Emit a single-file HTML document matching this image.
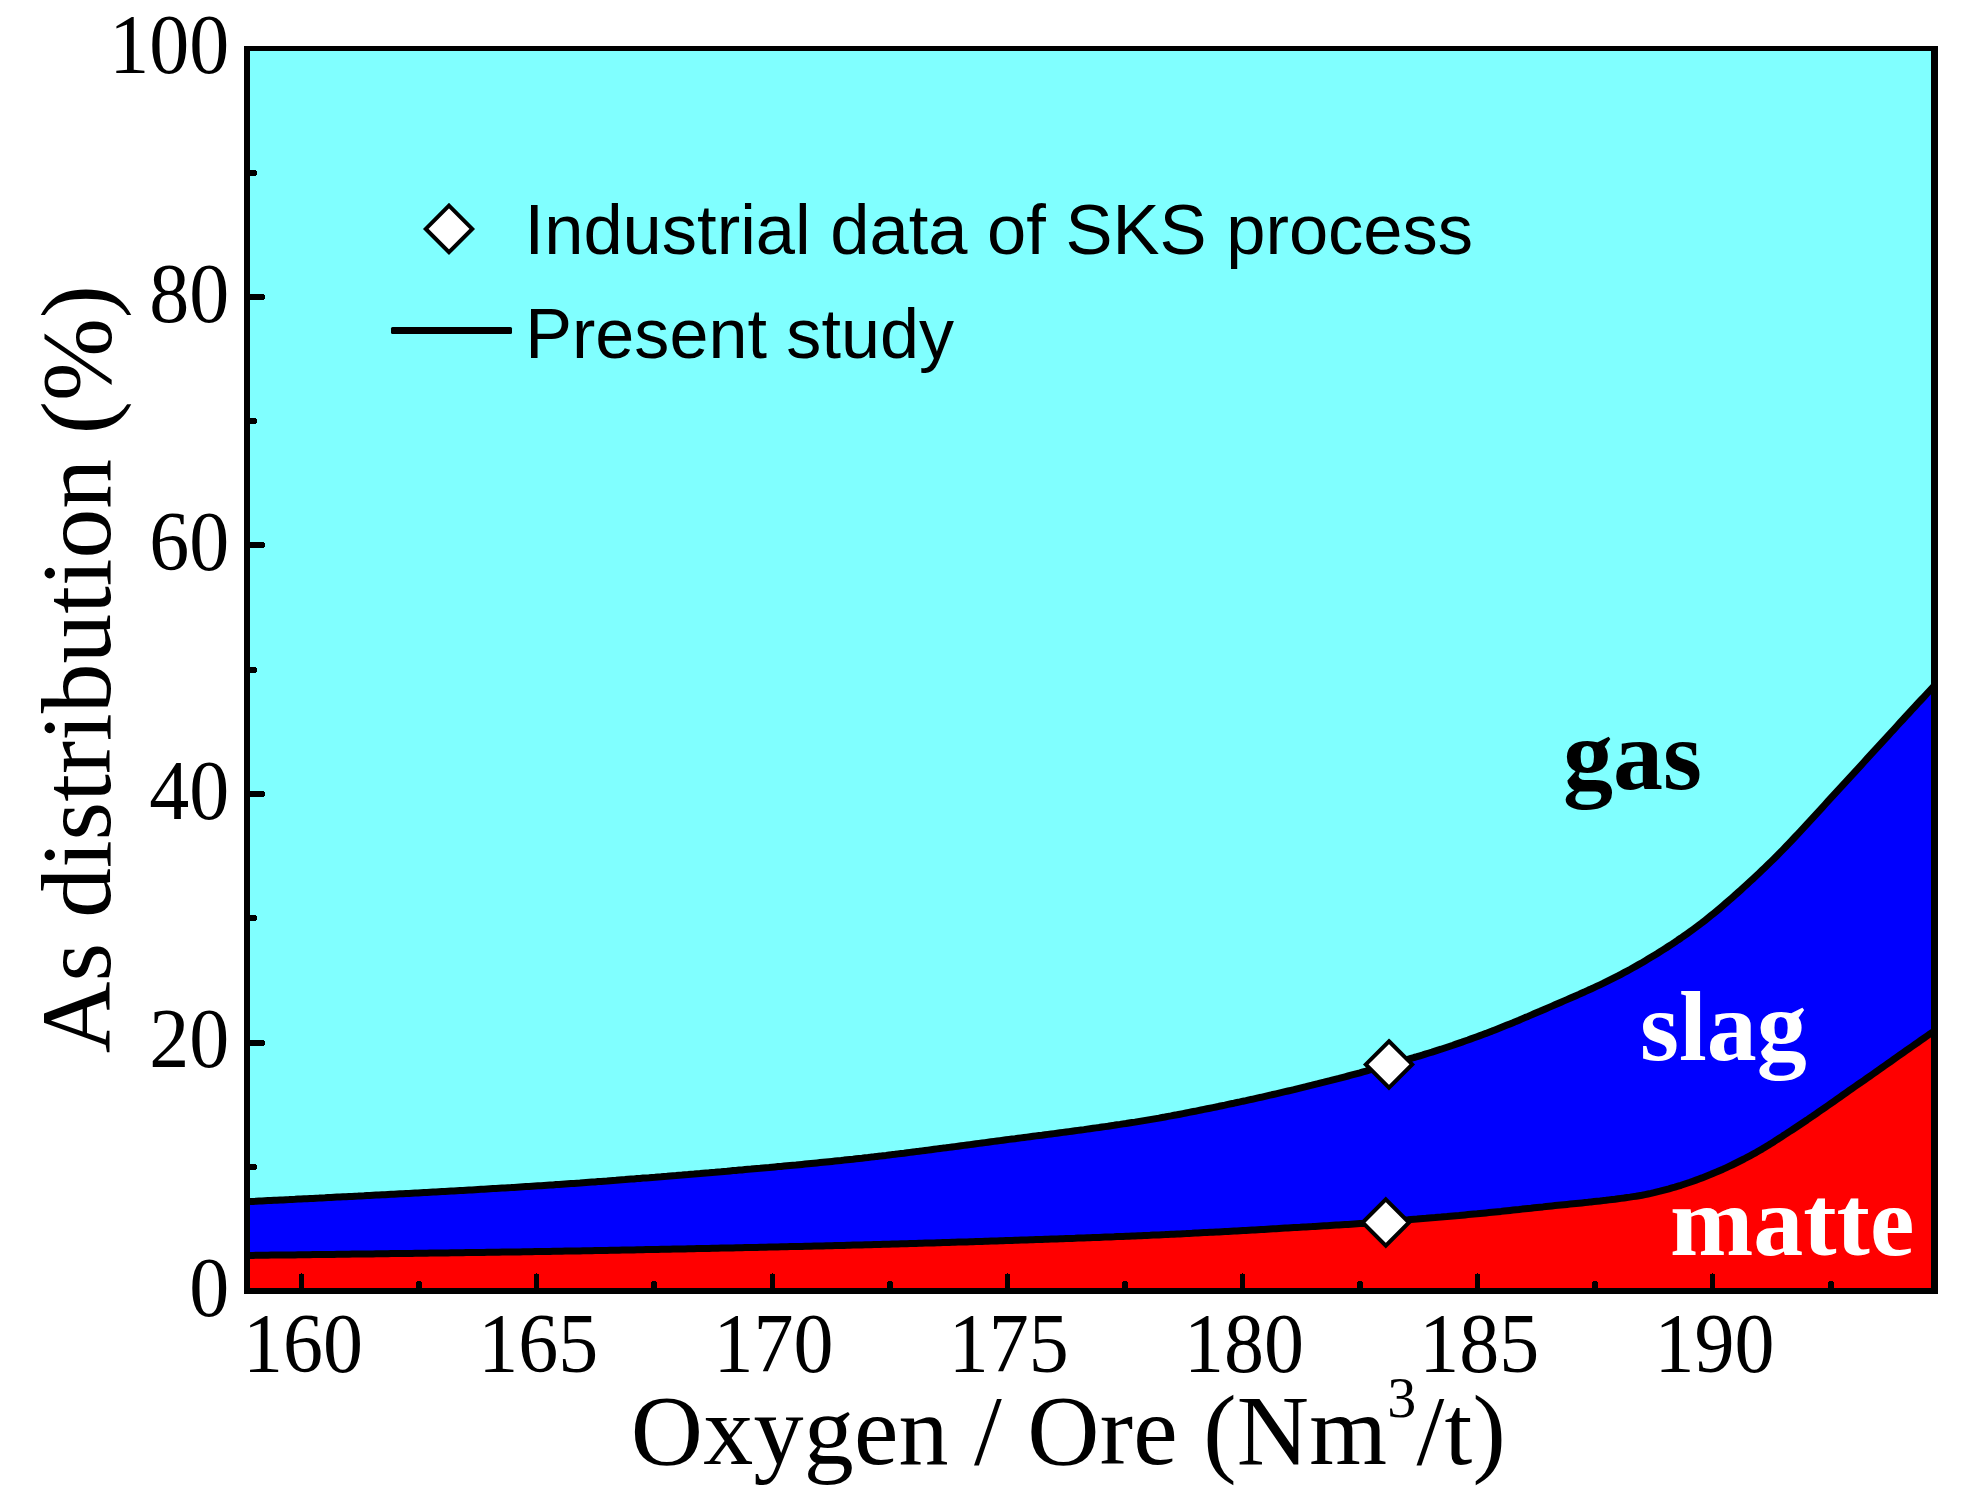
<!DOCTYPE html>
<html><head><meta charset="utf-8"><title>As distribution</title>
<style>
html,body{margin:0;padding:0;background:#fff;}
svg{display:block}
.ser{font-family:"Liberation Serif","Times New Roman",serif;}
.sans{font-family:"Liberation Sans",Arial,sans-serif;}
</style></head><body>
<svg width="1982" height="1506" viewBox="0 0 1982 1506">
<rect x="0" y="0" width="1982" height="1506" fill="#fff"/>
<rect x="247.0" y="48.5" width="1687.5" height="1242.5" fill="#80ffff"/>
<path d="M247.0,1201.7 L250.0,1201.6 L253.0,1201.4 L256.0,1201.3 L259.0,1201.1 L262.0,1201.0 L265.0,1200.8 L268.0,1200.6 L271.0,1200.5 L274.0,1200.3 L277.0,1200.2 L280.0,1200.0 L283.0,1199.9 L286.0,1199.7 L289.0,1199.6 L292.0,1199.4 L295.0,1199.3 L298.0,1199.1 L301.0,1199.0 L304.0,1198.8 L307.0,1198.7 L310.0,1198.5 L313.0,1198.4 L316.0,1198.2 L319.0,1198.1 L322.0,1197.9 L325.0,1197.8 L328.0,1197.6 L331.0,1197.5 L334.0,1197.3 L337.0,1197.1 L340.0,1197.0 L343.0,1196.8 L346.0,1196.7 L349.0,1196.5 L352.0,1196.4 L355.0,1196.2 L358.0,1196.1 L361.0,1195.9 L364.0,1195.8 L367.0,1195.6 L370.0,1195.5 L373.0,1195.3 L376.0,1195.1 L379.0,1195.0 L382.0,1194.8 L385.0,1194.7 L388.0,1194.5 L391.0,1194.3 L394.0,1194.2 L397.0,1194.0 L400.0,1193.8 L403.0,1193.7 L406.0,1193.5 L409.0,1193.4 L412.0,1193.2 L415.0,1193.0 L418.0,1192.9 L421.0,1192.7 L424.0,1192.5 L427.0,1192.4 L430.0,1192.2 L433.0,1192.0 L436.0,1191.9 L439.0,1191.7 L442.0,1191.5 L445.0,1191.4 L448.0,1191.2 L451.0,1191.0 L454.0,1190.9 L457.0,1190.7 L460.0,1190.5 L463.0,1190.4 L466.0,1190.2 L469.0,1190.0 L472.0,1189.9 L475.0,1189.7 L478.0,1189.5 L481.0,1189.3 L484.0,1189.2 L487.0,1189.0 L490.0,1188.8 L493.0,1188.6 L496.0,1188.5 L499.0,1188.3 L502.0,1188.1 L505.0,1187.9 L508.0,1187.7 L511.0,1187.6 L514.0,1187.4 L517.0,1187.2 L520.0,1187.0 L523.0,1186.8 L526.0,1186.6 L529.0,1186.4 L532.0,1186.2 L535.0,1186.0 L538.0,1185.8 L541.0,1185.7 L544.0,1185.5 L547.0,1185.3 L550.0,1185.1 L553.0,1184.9 L556.0,1184.6 L559.0,1184.4 L562.0,1184.2 L565.0,1184.0 L568.0,1183.8 L571.0,1183.6 L574.0,1183.4 L577.0,1183.2 L580.0,1183.0 L583.0,1182.7 L586.0,1182.5 L589.0,1182.3 L592.0,1182.1 L595.0,1181.9 L598.0,1181.6 L601.0,1181.4 L604.0,1181.2 L607.0,1181.0 L610.0,1180.7 L613.0,1180.5 L616.0,1180.3 L619.0,1180.0 L622.0,1179.8 L625.0,1179.6 L628.0,1179.3 L631.0,1179.1 L634.0,1178.9 L637.0,1178.6 L640.0,1178.4 L643.0,1178.1 L646.0,1177.9 L649.0,1177.7 L652.0,1177.4 L655.0,1177.2 L658.0,1176.9 L661.0,1176.7 L664.0,1176.4 L667.0,1176.2 L670.0,1175.9 L673.0,1175.7 L676.0,1175.5 L679.0,1175.2 L682.0,1175.0 L685.0,1174.7 L688.0,1174.5 L691.0,1174.2 L694.0,1174.0 L697.0,1173.7 L700.0,1173.5 L703.0,1173.2 L706.0,1172.9 L709.0,1172.7 L712.0,1172.4 L715.0,1172.2 L718.0,1171.9 L721.0,1171.7 L724.0,1171.4 L727.0,1171.2 L730.0,1170.9 L733.0,1170.6 L736.0,1170.4 L739.0,1170.1 L742.0,1169.9 L745.0,1169.6 L748.0,1169.3 L751.0,1169.1 L754.0,1168.8 L757.0,1168.5 L760.0,1168.3 L763.0,1168.0 L766.0,1167.7 L769.0,1167.5 L772.0,1167.2 L775.0,1166.9 L778.0,1166.6 L781.0,1166.4 L784.0,1166.1 L787.0,1165.8 L790.0,1165.5 L793.0,1165.2 L796.0,1165.0 L799.0,1164.7 L802.0,1164.4 L805.0,1164.1 L808.0,1163.8 L811.0,1163.5 L814.0,1163.2 L817.0,1162.9 L820.0,1162.6 L823.0,1162.3 L826.0,1162.0 L829.0,1161.7 L832.0,1161.4 L835.0,1161.1 L838.0,1160.8 L841.0,1160.5 L844.0,1160.1 L847.0,1159.8 L850.0,1159.5 L853.0,1159.2 L856.0,1158.8 L859.0,1158.5 L862.0,1158.2 L865.0,1157.8 L868.0,1157.5 L871.0,1157.1 L874.0,1156.8 L877.0,1156.4 L880.0,1156.1 L883.0,1155.7 L886.0,1155.4 L889.0,1155.0 L892.0,1154.6 L895.0,1154.3 L898.0,1153.9 L901.0,1153.5 L904.0,1153.2 L907.0,1152.8 L910.0,1152.4 L913.0,1152.0 L916.0,1151.6 L919.0,1151.3 L922.0,1150.9 L925.0,1150.5 L928.0,1150.1 L931.0,1149.7 L934.0,1149.3 L937.0,1148.9 L940.0,1148.5 L943.0,1148.1 L946.0,1147.8 L949.0,1147.4 L952.0,1147.0 L955.0,1146.6 L958.0,1146.2 L961.0,1145.8 L964.0,1145.4 L967.0,1145.0 L970.0,1144.6 L973.0,1144.2 L976.0,1143.8 L979.0,1143.4 L982.0,1143.0 L985.0,1142.6 L988.0,1142.2 L991.0,1141.8 L994.0,1141.4 L997.0,1141.0 L1000.0,1140.6 L1003.0,1140.2 L1006.0,1139.8 L1009.0,1139.4 L1012.0,1139.0 L1015.0,1138.7 L1018.0,1138.3 L1021.0,1137.9 L1024.0,1137.5 L1027.0,1137.1 L1030.0,1136.7 L1033.0,1136.3 L1036.0,1135.9 L1039.0,1135.5 L1042.0,1135.2 L1045.0,1134.8 L1048.0,1134.4 L1051.0,1134.0 L1054.0,1133.6 L1057.0,1133.2 L1060.0,1132.8 L1063.0,1132.4 L1066.0,1132.0 L1069.0,1131.6 L1072.0,1131.2 L1075.0,1130.8 L1078.0,1130.4 L1081.0,1130.0 L1084.0,1129.6 L1087.0,1129.1 L1090.0,1128.7 L1093.0,1128.3 L1096.0,1127.9 L1099.0,1127.5 L1102.0,1127.0 L1105.0,1126.6 L1108.0,1126.2 L1111.0,1125.7 L1114.0,1125.3 L1117.0,1124.8 L1120.0,1124.4 L1123.0,1123.9 L1126.0,1123.5 L1129.0,1123.0 L1132.0,1122.5 L1135.0,1122.1 L1138.0,1121.6 L1141.0,1121.1 L1144.0,1120.6 L1147.0,1120.1 L1150.0,1119.6 L1153.0,1119.1 L1156.0,1118.6 L1159.0,1118.1 L1162.0,1117.5 L1165.0,1117.0 L1168.0,1116.4 L1171.0,1115.9 L1174.0,1115.3 L1177.0,1114.8 L1180.0,1114.2 L1183.0,1113.6 L1186.0,1113.0 L1189.0,1112.4 L1192.0,1111.8 L1195.0,1111.3 L1198.0,1110.6 L1201.0,1110.0 L1204.0,1109.4 L1207.0,1108.8 L1210.0,1108.2 L1213.0,1107.6 L1216.0,1107.0 L1219.0,1106.3 L1222.0,1105.7 L1225.0,1105.1 L1228.0,1104.4 L1231.0,1103.8 L1234.0,1103.2 L1237.0,1102.5 L1240.0,1101.9 L1243.0,1101.2 L1246.0,1100.6 L1249.0,1099.9 L1252.0,1099.3 L1255.0,1098.6 L1258.0,1097.9 L1261.0,1097.3 L1264.0,1096.6 L1267.0,1095.9 L1270.0,1095.2 L1273.0,1094.5 L1276.0,1093.8 L1279.0,1093.1 L1282.0,1092.4 L1285.0,1091.7 L1288.0,1091.0 L1291.0,1090.3 L1294.0,1089.6 L1297.0,1088.8 L1300.0,1088.1 L1303.0,1087.4 L1306.0,1086.7 L1309.0,1085.9 L1312.0,1085.2 L1315.0,1084.4 L1318.0,1083.7 L1321.0,1082.9 L1324.0,1082.2 L1327.0,1081.4 L1330.0,1080.7 L1333.0,1079.9 L1336.0,1079.1 L1339.0,1078.4 L1342.0,1077.6 L1345.0,1076.8 L1348.0,1076.0 L1351.0,1075.2 L1354.0,1074.4 L1357.0,1073.6 L1360.0,1072.8 L1363.0,1071.9 L1366.0,1071.1 L1369.0,1070.2 L1372.0,1069.4 L1375.0,1068.6 L1378.0,1067.7 L1381.0,1066.9 L1384.0,1066.0 L1387.0,1065.2 L1390.0,1064.3 L1393.0,1063.5 L1396.0,1062.6 L1399.0,1061.8 L1402.0,1061.0 L1405.0,1060.1 L1408.0,1059.3 L1411.0,1058.4 L1414.0,1057.5 L1417.0,1056.7 L1420.0,1055.8 L1423.0,1054.9 L1426.0,1053.9 L1429.0,1053.0 L1432.0,1052.1 L1435.0,1051.1 L1438.0,1050.1 L1441.0,1049.2 L1444.0,1048.2 L1447.0,1047.2 L1450.0,1046.2 L1453.0,1045.2 L1456.0,1044.1 L1459.0,1043.1 L1462.0,1042.1 L1465.0,1041.0 L1468.0,1040.0 L1471.0,1038.9 L1474.0,1037.8 L1477.0,1036.7 L1480.0,1035.6 L1483.0,1034.5 L1486.0,1033.4 L1489.0,1032.2 L1492.0,1031.1 L1495.0,1029.9 L1498.0,1028.7 L1501.0,1027.5 L1504.0,1026.3 L1507.0,1025.1 L1510.0,1023.9 L1513.0,1022.7 L1516.0,1021.4 L1519.0,1020.2 L1522.0,1018.9 L1525.0,1017.6 L1528.0,1016.4 L1531.0,1015.1 L1534.0,1013.8 L1537.0,1012.5 L1540.0,1011.3 L1543.0,1010.0 L1546.0,1008.7 L1549.0,1007.4 L1552.0,1006.1 L1555.0,1004.8 L1558.0,1003.5 L1561.0,1002.2 L1564.0,1000.9 L1567.0,999.6 L1570.0,998.3 L1573.0,997.0 L1576.0,995.7 L1579.0,994.4 L1582.0,993.0 L1585.0,991.7 L1588.0,990.3 L1591.0,989.0 L1594.0,987.6 L1597.0,986.2 L1600.0,984.8 L1603.0,983.4 L1606.0,981.9 L1609.0,980.4 L1612.0,978.9 L1615.0,977.4 L1618.0,975.9 L1621.0,974.3 L1624.0,972.7 L1627.0,971.1 L1630.0,969.5 L1633.0,967.8 L1636.0,966.1 L1639.0,964.4 L1642.0,962.7 L1645.0,960.9 L1648.0,959.1 L1651.0,957.3 L1654.0,955.5 L1657.0,953.7 L1660.0,951.8 L1663.0,949.9 L1666.0,948.0 L1669.0,946.0 L1672.0,944.1 L1675.0,942.1 L1678.0,940.0 L1681.0,938.0 L1684.0,935.9 L1687.0,933.8 L1690.0,931.7 L1693.0,929.5 L1696.0,927.3 L1699.0,925.0 L1702.0,922.8 L1705.0,920.4 L1708.0,918.0 L1711.0,915.6 L1714.0,913.2 L1717.0,910.7 L1720.0,908.2 L1723.0,905.6 L1726.0,903.0 L1729.0,900.4 L1732.0,897.8 L1735.0,895.1 L1738.0,892.5 L1741.0,889.8 L1744.0,887.0 L1747.0,884.3 L1750.0,881.5 L1753.0,878.8 L1756.0,876.0 L1759.0,873.2 L1762.0,870.3 L1765.0,867.5 L1768.0,864.6 L1771.0,861.6 L1774.0,858.7 L1777.0,855.7 L1780.0,852.6 L1783.0,849.6 L1786.0,846.5 L1789.0,843.3 L1792.0,840.2 L1795.0,837.0 L1798.0,833.8 L1801.0,830.6 L1804.0,827.4 L1807.0,824.1 L1810.0,820.9 L1813.0,817.6 L1816.0,814.3 L1819.0,811.1 L1822.0,807.8 L1825.0,804.5 L1828.0,801.2 L1831.0,797.9 L1834.0,794.6 L1837.0,791.3 L1840.0,788.1 L1843.0,784.8 L1846.0,781.6 L1849.0,778.3 L1852.0,775.1 L1855.0,771.8 L1858.0,768.6 L1861.0,765.3 L1864.0,762.0 L1867.0,758.7 L1870.0,755.4 L1873.0,752.1 L1876.0,748.9 L1879.0,745.6 L1882.0,742.3 L1885.0,739.1 L1888.0,735.8 L1891.0,732.5 L1894.0,729.3 L1897.0,726.0 L1900.0,722.7 L1903.0,719.5 L1906.0,716.2 L1909.0,713.0 L1912.0,709.7 L1915.0,706.5 L1918.0,703.2 L1921.0,700.0 L1924.0,696.8 L1927.0,693.5 L1930.0,690.3 L1933.0,687.1 L1934.5,685.5 L1934.5,1291.0 L247.0,1291.0 Z" fill="#0000ff"/>
<path d="M247.0,1255.4 L250.0,1255.4 L253.0,1255.4 L256.0,1255.3 L259.0,1255.3 L262.0,1255.3 L265.0,1255.2 L268.0,1255.2 L271.0,1255.1 L274.0,1255.1 L277.0,1255.1 L280.0,1255.0 L283.0,1255.0 L286.0,1255.0 L289.0,1254.9 L292.0,1254.9 L295.0,1254.9 L298.0,1254.8 L301.0,1254.8 L304.0,1254.7 L307.0,1254.7 L310.0,1254.7 L313.0,1254.6 L316.0,1254.6 L319.0,1254.6 L322.0,1254.5 L325.0,1254.5 L328.0,1254.4 L331.0,1254.4 L334.0,1254.4 L337.0,1254.3 L340.0,1254.3 L343.0,1254.3 L346.0,1254.2 L349.0,1254.2 L352.0,1254.1 L355.0,1254.1 L358.0,1254.1 L361.0,1254.0 L364.0,1254.0 L367.0,1253.9 L370.0,1253.9 L373.0,1253.9 L376.0,1253.8 L379.0,1253.8 L382.0,1253.8 L385.0,1253.7 L388.0,1253.7 L391.0,1253.6 L394.0,1253.6 L397.0,1253.6 L400.0,1253.5 L403.0,1253.5 L406.0,1253.4 L409.0,1253.4 L412.0,1253.4 L415.0,1253.3 L418.0,1253.3 L421.0,1253.2 L424.0,1253.2 L427.0,1253.2 L430.0,1253.1 L433.0,1253.1 L436.0,1253.0 L439.0,1253.0 L442.0,1253.0 L445.0,1252.9 L448.0,1252.9 L451.0,1252.8 L454.0,1252.8 L457.0,1252.8 L460.0,1252.7 L463.0,1252.7 L466.0,1252.6 L469.0,1252.6 L472.0,1252.5 L475.0,1252.5 L478.0,1252.5 L481.0,1252.4 L484.0,1252.4 L487.0,1252.3 L490.0,1252.3 L493.0,1252.3 L496.0,1252.2 L499.0,1252.2 L502.0,1252.1 L505.0,1252.1 L508.0,1252.0 L511.0,1252.0 L514.0,1251.9 L517.0,1251.9 L520.0,1251.9 L523.0,1251.8 L526.0,1251.8 L529.0,1251.7 L532.0,1251.7 L535.0,1251.6 L538.0,1251.6 L541.0,1251.5 L544.0,1251.5 L547.0,1251.4 L550.0,1251.4 L553.0,1251.3 L556.0,1251.3 L559.0,1251.2 L562.0,1251.2 L565.0,1251.1 L568.0,1251.1 L571.0,1251.0 L574.0,1251.0 L577.0,1250.9 L580.0,1250.9 L583.0,1250.8 L586.0,1250.8 L589.0,1250.7 L592.0,1250.7 L595.0,1250.6 L598.0,1250.5 L601.0,1250.5 L604.0,1250.4 L607.0,1250.4 L610.0,1250.3 L613.0,1250.3 L616.0,1250.2 L619.0,1250.2 L622.0,1250.1 L625.0,1250.0 L628.0,1250.0 L631.0,1249.9 L634.0,1249.9 L637.0,1249.8 L640.0,1249.8 L643.0,1249.7 L646.0,1249.6 L649.0,1249.6 L652.0,1249.5 L655.0,1249.5 L658.0,1249.4 L661.0,1249.3 L664.0,1249.3 L667.0,1249.2 L670.0,1249.2 L673.0,1249.1 L676.0,1249.0 L679.0,1249.0 L682.0,1248.9 L685.0,1248.9 L688.0,1248.8 L691.0,1248.7 L694.0,1248.7 L697.0,1248.6 L700.0,1248.6 L703.0,1248.5 L706.0,1248.4 L709.0,1248.4 L712.0,1248.3 L715.0,1248.3 L718.0,1248.2 L721.0,1248.1 L724.0,1248.1 L727.0,1248.0 L730.0,1247.9 L733.0,1247.9 L736.0,1247.8 L739.0,1247.8 L742.0,1247.7 L745.0,1247.6 L748.0,1247.6 L751.0,1247.5 L754.0,1247.4 L757.0,1247.4 L760.0,1247.3 L763.0,1247.2 L766.0,1247.2 L769.0,1247.1 L772.0,1247.0 L775.0,1247.0 L778.0,1246.9 L781.0,1246.8 L784.0,1246.8 L787.0,1246.7 L790.0,1246.6 L793.0,1246.6 L796.0,1246.5 L799.0,1246.4 L802.0,1246.4 L805.0,1246.3 L808.0,1246.2 L811.0,1246.2 L814.0,1246.1 L817.0,1246.0 L820.0,1245.9 L823.0,1245.9 L826.0,1245.8 L829.0,1245.7 L832.0,1245.7 L835.0,1245.6 L838.0,1245.5 L841.0,1245.4 L844.0,1245.4 L847.0,1245.3 L850.0,1245.2 L853.0,1245.1 L856.0,1245.1 L859.0,1245.0 L862.0,1244.9 L865.0,1244.8 L868.0,1244.7 L871.0,1244.7 L874.0,1244.6 L877.0,1244.5 L880.0,1244.4 L883.0,1244.3 L886.0,1244.3 L889.0,1244.2 L892.0,1244.1 L895.0,1244.0 L898.0,1243.9 L901.0,1243.8 L904.0,1243.8 L907.0,1243.7 L910.0,1243.6 L913.0,1243.5 L916.0,1243.4 L919.0,1243.3 L922.0,1243.2 L925.0,1243.1 L928.0,1243.1 L931.0,1243.0 L934.0,1242.9 L937.0,1242.8 L940.0,1242.7 L943.0,1242.6 L946.0,1242.5 L949.0,1242.4 L952.0,1242.3 L955.0,1242.2 L958.0,1242.1 L961.0,1242.1 L964.0,1242.0 L967.0,1241.9 L970.0,1241.8 L973.0,1241.7 L976.0,1241.6 L979.0,1241.5 L982.0,1241.4 L985.0,1241.3 L988.0,1241.2 L991.0,1241.1 L994.0,1241.0 L997.0,1240.9 L1000.0,1240.8 L1003.0,1240.7 L1006.0,1240.6 L1009.0,1240.5 L1012.0,1240.4 L1015.0,1240.3 L1018.0,1240.2 L1021.0,1240.1 L1024.0,1240.0 L1027.0,1239.9 L1030.0,1239.8 L1033.0,1239.7 L1036.0,1239.6 L1039.0,1239.5 L1042.0,1239.4 L1045.0,1239.3 L1048.0,1239.2 L1051.0,1239.1 L1054.0,1239.0 L1057.0,1238.9 L1060.0,1238.8 L1063.0,1238.7 L1066.0,1238.6 L1069.0,1238.5 L1072.0,1238.4 L1075.0,1238.3 L1078.0,1238.1 L1081.0,1238.0 L1084.0,1237.9 L1087.0,1237.8 L1090.0,1237.7 L1093.0,1237.6 L1096.0,1237.5 L1099.0,1237.4 L1102.0,1237.2 L1105.0,1237.1 L1108.0,1237.0 L1111.0,1236.9 L1114.0,1236.8 L1117.0,1236.6 L1120.0,1236.5 L1123.0,1236.4 L1126.0,1236.3 L1129.0,1236.2 L1132.0,1236.0 L1135.0,1235.9 L1138.0,1235.8 L1141.0,1235.7 L1144.0,1235.5 L1147.0,1235.4 L1150.0,1235.3 L1153.0,1235.1 L1156.0,1235.0 L1159.0,1234.9 L1162.0,1234.7 L1165.0,1234.6 L1168.0,1234.4 L1171.0,1234.3 L1174.0,1234.2 L1177.0,1234.0 L1180.0,1233.9 L1183.0,1233.7 L1186.0,1233.6 L1189.0,1233.4 L1192.0,1233.3 L1195.0,1233.1 L1198.0,1233.0 L1201.0,1232.8 L1204.0,1232.6 L1207.0,1232.5 L1210.0,1232.3 L1213.0,1232.2 L1216.0,1232.0 L1219.0,1231.9 L1222.0,1231.7 L1225.0,1231.5 L1228.0,1231.4 L1231.0,1231.2 L1234.0,1231.0 L1237.0,1230.9 L1240.0,1230.7 L1243.0,1230.5 L1246.0,1230.4 L1249.0,1230.2 L1252.0,1230.0 L1255.0,1229.9 L1258.0,1229.7 L1261.0,1229.5 L1264.0,1229.4 L1267.0,1229.2 L1270.0,1229.0 L1273.0,1228.8 L1276.0,1228.7 L1279.0,1228.5 L1282.0,1228.3 L1285.0,1228.1 L1288.0,1228.0 L1291.0,1227.8 L1294.0,1227.6 L1297.0,1227.4 L1300.0,1227.3 L1303.0,1227.1 L1306.0,1226.9 L1309.0,1226.7 L1312.0,1226.6 L1315.0,1226.4 L1318.0,1226.2 L1321.0,1226.0 L1324.0,1225.8 L1327.0,1225.7 L1330.0,1225.5 L1333.0,1225.3 L1336.0,1225.1 L1339.0,1225.0 L1342.0,1224.8 L1345.0,1224.6 L1348.0,1224.4 L1351.0,1224.2 L1354.0,1224.0 L1357.0,1223.8 L1360.0,1223.6 L1363.0,1223.4 L1366.0,1223.2 L1369.0,1223.0 L1372.0,1222.8 L1375.0,1222.5 L1378.0,1222.3 L1381.0,1222.0 L1384.0,1221.8 L1387.0,1221.5 L1390.0,1221.2 L1393.0,1221.0 L1396.0,1220.7 L1399.0,1220.5 L1402.0,1220.2 L1405.0,1219.9 L1408.0,1219.7 L1411.0,1219.4 L1414.0,1219.2 L1417.0,1219.0 L1420.0,1218.7 L1423.0,1218.5 L1426.0,1218.3 L1429.0,1218.0 L1432.0,1217.8 L1435.0,1217.6 L1438.0,1217.3 L1441.0,1217.1 L1444.0,1216.8 L1447.0,1216.6 L1450.0,1216.3 L1453.0,1216.0 L1456.0,1215.7 L1459.0,1215.5 L1462.0,1215.2 L1465.0,1214.9 L1468.0,1214.6 L1471.0,1214.3 L1474.0,1214.0 L1477.0,1213.8 L1480.0,1213.5 L1483.0,1213.2 L1486.0,1212.9 L1489.0,1212.6 L1492.0,1212.3 L1495.0,1212.0 L1498.0,1211.7 L1501.0,1211.4 L1504.0,1211.0 L1507.0,1210.7 L1510.0,1210.4 L1513.0,1210.1 L1516.0,1209.8 L1519.0,1209.5 L1522.0,1209.1 L1525.0,1208.8 L1528.0,1208.5 L1531.0,1208.2 L1534.0,1207.8 L1537.0,1207.5 L1540.0,1207.2 L1543.0,1206.9 L1546.0,1206.5 L1549.0,1206.2 L1552.0,1205.9 L1555.0,1205.6 L1558.0,1205.3 L1561.0,1205.0 L1564.0,1204.7 L1567.0,1204.4 L1570.0,1204.1 L1573.0,1203.8 L1576.0,1203.5 L1579.0,1203.2 L1582.0,1202.9 L1585.0,1202.6 L1588.0,1202.3 L1591.0,1201.9 L1594.0,1201.6 L1597.0,1201.3 L1600.0,1201.0 L1603.0,1200.6 L1606.0,1200.3 L1609.0,1199.9 L1612.0,1199.5 L1615.0,1199.2 L1618.0,1198.8 L1621.0,1198.4 L1624.0,1198.0 L1627.0,1197.5 L1630.0,1197.1 L1633.0,1196.6 L1636.0,1196.2 L1639.0,1195.7 L1642.0,1195.2 L1645.0,1194.6 L1648.0,1194.0 L1651.0,1193.4 L1654.0,1192.7 L1657.0,1191.9 L1660.0,1191.2 L1663.0,1190.4 L1666.0,1189.6 L1669.0,1188.8 L1672.0,1187.9 L1675.0,1187.1 L1678.0,1186.2 L1681.0,1185.3 L1684.0,1184.3 L1687.0,1183.3 L1690.0,1182.3 L1693.0,1181.2 L1696.0,1180.1 L1699.0,1179.0 L1702.0,1177.9 L1705.0,1176.7 L1708.0,1175.5 L1711.0,1174.3 L1714.0,1173.0 L1717.0,1171.8 L1720.0,1170.5 L1723.0,1169.2 L1726.0,1167.8 L1729.0,1166.4 L1732.0,1165.0 L1735.0,1163.5 L1738.0,1162.0 L1741.0,1160.5 L1744.0,1159.0 L1747.0,1157.4 L1750.0,1155.8 L1753.0,1154.2 L1756.0,1152.6 L1759.0,1150.8 L1762.0,1149.1 L1765.0,1147.3 L1768.0,1145.4 L1771.0,1143.6 L1774.0,1141.7 L1777.0,1139.7 L1780.0,1137.8 L1783.0,1135.8 L1786.0,1133.9 L1789.0,1131.9 L1792.0,1130.0 L1795.0,1128.0 L1798.0,1126.0 L1801.0,1124.0 L1804.0,1122.0 L1807.0,1120.0 L1810.0,1117.9 L1813.0,1115.9 L1816.0,1113.8 L1819.0,1111.7 L1822.0,1109.7 L1825.0,1107.6 L1828.0,1105.5 L1831.0,1103.4 L1834.0,1101.3 L1837.0,1099.2 L1840.0,1097.1 L1843.0,1094.9 L1846.0,1092.8 L1849.0,1090.7 L1852.0,1088.6 L1855.0,1086.5 L1858.0,1084.4 L1861.0,1082.3 L1864.0,1080.3 L1867.0,1078.2 L1870.0,1076.1 L1873.0,1074.0 L1876.0,1071.9 L1879.0,1069.7 L1882.0,1067.6 L1885.0,1065.5 L1888.0,1063.4 L1891.0,1061.3 L1894.0,1059.2 L1897.0,1057.0 L1900.0,1054.9 L1903.0,1052.8 L1906.0,1050.7 L1909.0,1048.6 L1912.0,1046.5 L1915.0,1044.4 L1918.0,1042.3 L1921.0,1040.2 L1924.0,1038.1 L1927.0,1036.0 L1930.0,1033.9 L1933.0,1031.9 L1934.5,1030.8 L1934.5,1291.0 L247.0,1291.0 Z" fill="#ff0000"/>
<path d="M247.0,1201.7 L250.0,1201.6 L253.0,1201.4 L256.0,1201.3 L259.0,1201.1 L262.0,1201.0 L265.0,1200.8 L268.0,1200.6 L271.0,1200.5 L274.0,1200.3 L277.0,1200.2 L280.0,1200.0 L283.0,1199.9 L286.0,1199.7 L289.0,1199.6 L292.0,1199.4 L295.0,1199.3 L298.0,1199.1 L301.0,1199.0 L304.0,1198.8 L307.0,1198.7 L310.0,1198.5 L313.0,1198.4 L316.0,1198.2 L319.0,1198.1 L322.0,1197.9 L325.0,1197.8 L328.0,1197.6 L331.0,1197.5 L334.0,1197.3 L337.0,1197.1 L340.0,1197.0 L343.0,1196.8 L346.0,1196.7 L349.0,1196.5 L352.0,1196.4 L355.0,1196.2 L358.0,1196.1 L361.0,1195.9 L364.0,1195.8 L367.0,1195.6 L370.0,1195.5 L373.0,1195.3 L376.0,1195.1 L379.0,1195.0 L382.0,1194.8 L385.0,1194.7 L388.0,1194.5 L391.0,1194.3 L394.0,1194.2 L397.0,1194.0 L400.0,1193.8 L403.0,1193.7 L406.0,1193.5 L409.0,1193.4 L412.0,1193.2 L415.0,1193.0 L418.0,1192.9 L421.0,1192.7 L424.0,1192.5 L427.0,1192.4 L430.0,1192.2 L433.0,1192.0 L436.0,1191.9 L439.0,1191.7 L442.0,1191.5 L445.0,1191.4 L448.0,1191.2 L451.0,1191.0 L454.0,1190.9 L457.0,1190.7 L460.0,1190.5 L463.0,1190.4 L466.0,1190.2 L469.0,1190.0 L472.0,1189.9 L475.0,1189.7 L478.0,1189.5 L481.0,1189.3 L484.0,1189.2 L487.0,1189.0 L490.0,1188.8 L493.0,1188.6 L496.0,1188.5 L499.0,1188.3 L502.0,1188.1 L505.0,1187.9 L508.0,1187.7 L511.0,1187.6 L514.0,1187.4 L517.0,1187.2 L520.0,1187.0 L523.0,1186.8 L526.0,1186.6 L529.0,1186.4 L532.0,1186.2 L535.0,1186.0 L538.0,1185.8 L541.0,1185.7 L544.0,1185.5 L547.0,1185.3 L550.0,1185.1 L553.0,1184.9 L556.0,1184.6 L559.0,1184.4 L562.0,1184.2 L565.0,1184.0 L568.0,1183.8 L571.0,1183.6 L574.0,1183.4 L577.0,1183.2 L580.0,1183.0 L583.0,1182.7 L586.0,1182.5 L589.0,1182.3 L592.0,1182.1 L595.0,1181.9 L598.0,1181.6 L601.0,1181.4 L604.0,1181.2 L607.0,1181.0 L610.0,1180.7 L613.0,1180.5 L616.0,1180.3 L619.0,1180.0 L622.0,1179.8 L625.0,1179.6 L628.0,1179.3 L631.0,1179.1 L634.0,1178.9 L637.0,1178.6 L640.0,1178.4 L643.0,1178.1 L646.0,1177.9 L649.0,1177.7 L652.0,1177.4 L655.0,1177.2 L658.0,1176.9 L661.0,1176.7 L664.0,1176.4 L667.0,1176.2 L670.0,1175.9 L673.0,1175.7 L676.0,1175.5 L679.0,1175.2 L682.0,1175.0 L685.0,1174.7 L688.0,1174.5 L691.0,1174.2 L694.0,1174.0 L697.0,1173.7 L700.0,1173.5 L703.0,1173.2 L706.0,1172.9 L709.0,1172.7 L712.0,1172.4 L715.0,1172.2 L718.0,1171.9 L721.0,1171.7 L724.0,1171.4 L727.0,1171.2 L730.0,1170.9 L733.0,1170.6 L736.0,1170.4 L739.0,1170.1 L742.0,1169.9 L745.0,1169.6 L748.0,1169.3 L751.0,1169.1 L754.0,1168.8 L757.0,1168.5 L760.0,1168.3 L763.0,1168.0 L766.0,1167.7 L769.0,1167.5 L772.0,1167.2 L775.0,1166.9 L778.0,1166.6 L781.0,1166.4 L784.0,1166.1 L787.0,1165.8 L790.0,1165.5 L793.0,1165.2 L796.0,1165.0 L799.0,1164.7 L802.0,1164.4 L805.0,1164.1 L808.0,1163.8 L811.0,1163.5 L814.0,1163.2 L817.0,1162.9 L820.0,1162.6 L823.0,1162.3 L826.0,1162.0 L829.0,1161.7 L832.0,1161.4 L835.0,1161.1 L838.0,1160.8 L841.0,1160.5 L844.0,1160.1 L847.0,1159.8 L850.0,1159.5 L853.0,1159.2 L856.0,1158.8 L859.0,1158.5 L862.0,1158.2 L865.0,1157.8 L868.0,1157.5 L871.0,1157.1 L874.0,1156.8 L877.0,1156.4 L880.0,1156.1 L883.0,1155.7 L886.0,1155.4 L889.0,1155.0 L892.0,1154.6 L895.0,1154.3 L898.0,1153.9 L901.0,1153.5 L904.0,1153.2 L907.0,1152.8 L910.0,1152.4 L913.0,1152.0 L916.0,1151.6 L919.0,1151.3 L922.0,1150.9 L925.0,1150.5 L928.0,1150.1 L931.0,1149.7 L934.0,1149.3 L937.0,1148.9 L940.0,1148.5 L943.0,1148.1 L946.0,1147.8 L949.0,1147.4 L952.0,1147.0 L955.0,1146.6 L958.0,1146.2 L961.0,1145.8 L964.0,1145.4 L967.0,1145.0 L970.0,1144.6 L973.0,1144.2 L976.0,1143.8 L979.0,1143.4 L982.0,1143.0 L985.0,1142.6 L988.0,1142.2 L991.0,1141.8 L994.0,1141.4 L997.0,1141.0 L1000.0,1140.6 L1003.0,1140.2 L1006.0,1139.8 L1009.0,1139.4 L1012.0,1139.0 L1015.0,1138.7 L1018.0,1138.3 L1021.0,1137.9 L1024.0,1137.5 L1027.0,1137.1 L1030.0,1136.7 L1033.0,1136.3 L1036.0,1135.9 L1039.0,1135.5 L1042.0,1135.2 L1045.0,1134.8 L1048.0,1134.4 L1051.0,1134.0 L1054.0,1133.6 L1057.0,1133.2 L1060.0,1132.8 L1063.0,1132.4 L1066.0,1132.0 L1069.0,1131.6 L1072.0,1131.2 L1075.0,1130.8 L1078.0,1130.4 L1081.0,1130.0 L1084.0,1129.6 L1087.0,1129.1 L1090.0,1128.7 L1093.0,1128.3 L1096.0,1127.9 L1099.0,1127.5 L1102.0,1127.0 L1105.0,1126.6 L1108.0,1126.2 L1111.0,1125.7 L1114.0,1125.3 L1117.0,1124.8 L1120.0,1124.4 L1123.0,1123.9 L1126.0,1123.5 L1129.0,1123.0 L1132.0,1122.5 L1135.0,1122.1 L1138.0,1121.6 L1141.0,1121.1 L1144.0,1120.6 L1147.0,1120.1 L1150.0,1119.6 L1153.0,1119.1 L1156.0,1118.6 L1159.0,1118.1 L1162.0,1117.5 L1165.0,1117.0 L1168.0,1116.4 L1171.0,1115.9 L1174.0,1115.3 L1177.0,1114.8 L1180.0,1114.2 L1183.0,1113.6 L1186.0,1113.0 L1189.0,1112.4 L1192.0,1111.8 L1195.0,1111.3 L1198.0,1110.6 L1201.0,1110.0 L1204.0,1109.4 L1207.0,1108.8 L1210.0,1108.2 L1213.0,1107.6 L1216.0,1107.0 L1219.0,1106.3 L1222.0,1105.7 L1225.0,1105.1 L1228.0,1104.4 L1231.0,1103.8 L1234.0,1103.2 L1237.0,1102.5 L1240.0,1101.9 L1243.0,1101.2 L1246.0,1100.6 L1249.0,1099.9 L1252.0,1099.3 L1255.0,1098.6 L1258.0,1097.9 L1261.0,1097.3 L1264.0,1096.6 L1267.0,1095.9 L1270.0,1095.2 L1273.0,1094.5 L1276.0,1093.8 L1279.0,1093.1 L1282.0,1092.4 L1285.0,1091.7 L1288.0,1091.0 L1291.0,1090.3 L1294.0,1089.6 L1297.0,1088.8 L1300.0,1088.1 L1303.0,1087.4 L1306.0,1086.7 L1309.0,1085.9 L1312.0,1085.2 L1315.0,1084.4 L1318.0,1083.7 L1321.0,1082.9 L1324.0,1082.2 L1327.0,1081.4 L1330.0,1080.7 L1333.0,1079.9 L1336.0,1079.1 L1339.0,1078.4 L1342.0,1077.6 L1345.0,1076.8 L1348.0,1076.0 L1351.0,1075.2 L1354.0,1074.4 L1357.0,1073.6 L1360.0,1072.8 L1363.0,1071.9 L1366.0,1071.1 L1369.0,1070.2 L1372.0,1069.4 L1375.0,1068.6 L1378.0,1067.7 L1381.0,1066.9 L1384.0,1066.0 L1387.0,1065.2 L1390.0,1064.3 L1393.0,1063.5 L1396.0,1062.6 L1399.0,1061.8 L1402.0,1061.0 L1405.0,1060.1 L1408.0,1059.3 L1411.0,1058.4 L1414.0,1057.5 L1417.0,1056.7 L1420.0,1055.8 L1423.0,1054.9 L1426.0,1053.9 L1429.0,1053.0 L1432.0,1052.1 L1435.0,1051.1 L1438.0,1050.1 L1441.0,1049.2 L1444.0,1048.2 L1447.0,1047.2 L1450.0,1046.2 L1453.0,1045.2 L1456.0,1044.1 L1459.0,1043.1 L1462.0,1042.1 L1465.0,1041.0 L1468.0,1040.0 L1471.0,1038.9 L1474.0,1037.8 L1477.0,1036.7 L1480.0,1035.6 L1483.0,1034.5 L1486.0,1033.4 L1489.0,1032.2 L1492.0,1031.1 L1495.0,1029.9 L1498.0,1028.7 L1501.0,1027.5 L1504.0,1026.3 L1507.0,1025.1 L1510.0,1023.9 L1513.0,1022.7 L1516.0,1021.4 L1519.0,1020.2 L1522.0,1018.9 L1525.0,1017.6 L1528.0,1016.4 L1531.0,1015.1 L1534.0,1013.8 L1537.0,1012.5 L1540.0,1011.3 L1543.0,1010.0 L1546.0,1008.7 L1549.0,1007.4 L1552.0,1006.1 L1555.0,1004.8 L1558.0,1003.5 L1561.0,1002.2 L1564.0,1000.9 L1567.0,999.6 L1570.0,998.3 L1573.0,997.0 L1576.0,995.7 L1579.0,994.4 L1582.0,993.0 L1585.0,991.7 L1588.0,990.3 L1591.0,989.0 L1594.0,987.6 L1597.0,986.2 L1600.0,984.8 L1603.0,983.4 L1606.0,981.9 L1609.0,980.4 L1612.0,978.9 L1615.0,977.4 L1618.0,975.9 L1621.0,974.3 L1624.0,972.7 L1627.0,971.1 L1630.0,969.5 L1633.0,967.8 L1636.0,966.1 L1639.0,964.4 L1642.0,962.7 L1645.0,960.9 L1648.0,959.1 L1651.0,957.3 L1654.0,955.5 L1657.0,953.7 L1660.0,951.8 L1663.0,949.9 L1666.0,948.0 L1669.0,946.0 L1672.0,944.1 L1675.0,942.1 L1678.0,940.0 L1681.0,938.0 L1684.0,935.9 L1687.0,933.8 L1690.0,931.7 L1693.0,929.5 L1696.0,927.3 L1699.0,925.0 L1702.0,922.8 L1705.0,920.4 L1708.0,918.0 L1711.0,915.6 L1714.0,913.2 L1717.0,910.7 L1720.0,908.2 L1723.0,905.6 L1726.0,903.0 L1729.0,900.4 L1732.0,897.8 L1735.0,895.1 L1738.0,892.5 L1741.0,889.8 L1744.0,887.0 L1747.0,884.3 L1750.0,881.5 L1753.0,878.8 L1756.0,876.0 L1759.0,873.2 L1762.0,870.3 L1765.0,867.5 L1768.0,864.6 L1771.0,861.6 L1774.0,858.7 L1777.0,855.7 L1780.0,852.6 L1783.0,849.6 L1786.0,846.5 L1789.0,843.3 L1792.0,840.2 L1795.0,837.0 L1798.0,833.8 L1801.0,830.6 L1804.0,827.4 L1807.0,824.1 L1810.0,820.9 L1813.0,817.6 L1816.0,814.3 L1819.0,811.1 L1822.0,807.8 L1825.0,804.5 L1828.0,801.2 L1831.0,797.9 L1834.0,794.6 L1837.0,791.3 L1840.0,788.1 L1843.0,784.8 L1846.0,781.6 L1849.0,778.3 L1852.0,775.1 L1855.0,771.8 L1858.0,768.6 L1861.0,765.3 L1864.0,762.0 L1867.0,758.7 L1870.0,755.4 L1873.0,752.1 L1876.0,748.9 L1879.0,745.6 L1882.0,742.3 L1885.0,739.1 L1888.0,735.8 L1891.0,732.5 L1894.0,729.3 L1897.0,726.0 L1900.0,722.7 L1903.0,719.5 L1906.0,716.2 L1909.0,713.0 L1912.0,709.7 L1915.0,706.5 L1918.0,703.2 L1921.0,700.0 L1924.0,696.8 L1927.0,693.5 L1930.0,690.3 L1933.0,687.1 L1934.5,685.5" fill="none" stroke="#000" stroke-width="7" stroke-linejoin="round"/>
<path d="M247.0,1255.4 L250.0,1255.4 L253.0,1255.4 L256.0,1255.3 L259.0,1255.3 L262.0,1255.3 L265.0,1255.2 L268.0,1255.2 L271.0,1255.1 L274.0,1255.1 L277.0,1255.1 L280.0,1255.0 L283.0,1255.0 L286.0,1255.0 L289.0,1254.9 L292.0,1254.9 L295.0,1254.9 L298.0,1254.8 L301.0,1254.8 L304.0,1254.7 L307.0,1254.7 L310.0,1254.7 L313.0,1254.6 L316.0,1254.6 L319.0,1254.6 L322.0,1254.5 L325.0,1254.5 L328.0,1254.4 L331.0,1254.4 L334.0,1254.4 L337.0,1254.3 L340.0,1254.3 L343.0,1254.3 L346.0,1254.2 L349.0,1254.2 L352.0,1254.1 L355.0,1254.1 L358.0,1254.1 L361.0,1254.0 L364.0,1254.0 L367.0,1253.9 L370.0,1253.9 L373.0,1253.9 L376.0,1253.8 L379.0,1253.8 L382.0,1253.8 L385.0,1253.7 L388.0,1253.7 L391.0,1253.6 L394.0,1253.6 L397.0,1253.6 L400.0,1253.5 L403.0,1253.5 L406.0,1253.4 L409.0,1253.4 L412.0,1253.4 L415.0,1253.3 L418.0,1253.3 L421.0,1253.2 L424.0,1253.2 L427.0,1253.2 L430.0,1253.1 L433.0,1253.1 L436.0,1253.0 L439.0,1253.0 L442.0,1253.0 L445.0,1252.9 L448.0,1252.9 L451.0,1252.8 L454.0,1252.8 L457.0,1252.8 L460.0,1252.7 L463.0,1252.7 L466.0,1252.6 L469.0,1252.6 L472.0,1252.5 L475.0,1252.5 L478.0,1252.5 L481.0,1252.4 L484.0,1252.4 L487.0,1252.3 L490.0,1252.3 L493.0,1252.3 L496.0,1252.2 L499.0,1252.2 L502.0,1252.1 L505.0,1252.1 L508.0,1252.0 L511.0,1252.0 L514.0,1251.9 L517.0,1251.9 L520.0,1251.9 L523.0,1251.8 L526.0,1251.8 L529.0,1251.7 L532.0,1251.7 L535.0,1251.6 L538.0,1251.6 L541.0,1251.5 L544.0,1251.5 L547.0,1251.4 L550.0,1251.4 L553.0,1251.3 L556.0,1251.3 L559.0,1251.2 L562.0,1251.2 L565.0,1251.1 L568.0,1251.1 L571.0,1251.0 L574.0,1251.0 L577.0,1250.9 L580.0,1250.9 L583.0,1250.8 L586.0,1250.8 L589.0,1250.7 L592.0,1250.7 L595.0,1250.6 L598.0,1250.5 L601.0,1250.5 L604.0,1250.4 L607.0,1250.4 L610.0,1250.3 L613.0,1250.3 L616.0,1250.2 L619.0,1250.2 L622.0,1250.1 L625.0,1250.0 L628.0,1250.0 L631.0,1249.9 L634.0,1249.9 L637.0,1249.8 L640.0,1249.8 L643.0,1249.7 L646.0,1249.6 L649.0,1249.6 L652.0,1249.5 L655.0,1249.5 L658.0,1249.4 L661.0,1249.3 L664.0,1249.3 L667.0,1249.2 L670.0,1249.2 L673.0,1249.1 L676.0,1249.0 L679.0,1249.0 L682.0,1248.9 L685.0,1248.9 L688.0,1248.8 L691.0,1248.7 L694.0,1248.7 L697.0,1248.6 L700.0,1248.6 L703.0,1248.5 L706.0,1248.4 L709.0,1248.4 L712.0,1248.3 L715.0,1248.3 L718.0,1248.2 L721.0,1248.1 L724.0,1248.1 L727.0,1248.0 L730.0,1247.9 L733.0,1247.9 L736.0,1247.8 L739.0,1247.8 L742.0,1247.7 L745.0,1247.6 L748.0,1247.6 L751.0,1247.5 L754.0,1247.4 L757.0,1247.4 L760.0,1247.3 L763.0,1247.2 L766.0,1247.2 L769.0,1247.1 L772.0,1247.0 L775.0,1247.0 L778.0,1246.9 L781.0,1246.8 L784.0,1246.8 L787.0,1246.7 L790.0,1246.6 L793.0,1246.6 L796.0,1246.5 L799.0,1246.4 L802.0,1246.4 L805.0,1246.3 L808.0,1246.2 L811.0,1246.2 L814.0,1246.1 L817.0,1246.0 L820.0,1245.9 L823.0,1245.9 L826.0,1245.8 L829.0,1245.7 L832.0,1245.7 L835.0,1245.6 L838.0,1245.5 L841.0,1245.4 L844.0,1245.4 L847.0,1245.3 L850.0,1245.2 L853.0,1245.1 L856.0,1245.1 L859.0,1245.0 L862.0,1244.9 L865.0,1244.8 L868.0,1244.7 L871.0,1244.7 L874.0,1244.6 L877.0,1244.5 L880.0,1244.4 L883.0,1244.3 L886.0,1244.3 L889.0,1244.2 L892.0,1244.1 L895.0,1244.0 L898.0,1243.9 L901.0,1243.8 L904.0,1243.8 L907.0,1243.7 L910.0,1243.6 L913.0,1243.5 L916.0,1243.4 L919.0,1243.3 L922.0,1243.2 L925.0,1243.1 L928.0,1243.1 L931.0,1243.0 L934.0,1242.9 L937.0,1242.8 L940.0,1242.7 L943.0,1242.6 L946.0,1242.5 L949.0,1242.4 L952.0,1242.3 L955.0,1242.2 L958.0,1242.1 L961.0,1242.1 L964.0,1242.0 L967.0,1241.9 L970.0,1241.8 L973.0,1241.7 L976.0,1241.6 L979.0,1241.5 L982.0,1241.4 L985.0,1241.3 L988.0,1241.2 L991.0,1241.1 L994.0,1241.0 L997.0,1240.9 L1000.0,1240.8 L1003.0,1240.7 L1006.0,1240.6 L1009.0,1240.5 L1012.0,1240.4 L1015.0,1240.3 L1018.0,1240.2 L1021.0,1240.1 L1024.0,1240.0 L1027.0,1239.9 L1030.0,1239.8 L1033.0,1239.7 L1036.0,1239.6 L1039.0,1239.5 L1042.0,1239.4 L1045.0,1239.3 L1048.0,1239.2 L1051.0,1239.1 L1054.0,1239.0 L1057.0,1238.9 L1060.0,1238.8 L1063.0,1238.7 L1066.0,1238.6 L1069.0,1238.5 L1072.0,1238.4 L1075.0,1238.3 L1078.0,1238.1 L1081.0,1238.0 L1084.0,1237.9 L1087.0,1237.8 L1090.0,1237.7 L1093.0,1237.6 L1096.0,1237.5 L1099.0,1237.4 L1102.0,1237.2 L1105.0,1237.1 L1108.0,1237.0 L1111.0,1236.9 L1114.0,1236.8 L1117.0,1236.6 L1120.0,1236.5 L1123.0,1236.4 L1126.0,1236.3 L1129.0,1236.2 L1132.0,1236.0 L1135.0,1235.9 L1138.0,1235.8 L1141.0,1235.7 L1144.0,1235.5 L1147.0,1235.4 L1150.0,1235.3 L1153.0,1235.1 L1156.0,1235.0 L1159.0,1234.9 L1162.0,1234.7 L1165.0,1234.6 L1168.0,1234.4 L1171.0,1234.3 L1174.0,1234.2 L1177.0,1234.0 L1180.0,1233.9 L1183.0,1233.7 L1186.0,1233.6 L1189.0,1233.4 L1192.0,1233.3 L1195.0,1233.1 L1198.0,1233.0 L1201.0,1232.8 L1204.0,1232.6 L1207.0,1232.5 L1210.0,1232.3 L1213.0,1232.2 L1216.0,1232.0 L1219.0,1231.9 L1222.0,1231.7 L1225.0,1231.5 L1228.0,1231.4 L1231.0,1231.2 L1234.0,1231.0 L1237.0,1230.9 L1240.0,1230.7 L1243.0,1230.5 L1246.0,1230.4 L1249.0,1230.2 L1252.0,1230.0 L1255.0,1229.9 L1258.0,1229.7 L1261.0,1229.5 L1264.0,1229.4 L1267.0,1229.2 L1270.0,1229.0 L1273.0,1228.8 L1276.0,1228.7 L1279.0,1228.5 L1282.0,1228.3 L1285.0,1228.1 L1288.0,1228.0 L1291.0,1227.8 L1294.0,1227.6 L1297.0,1227.4 L1300.0,1227.3 L1303.0,1227.1 L1306.0,1226.9 L1309.0,1226.7 L1312.0,1226.6 L1315.0,1226.4 L1318.0,1226.2 L1321.0,1226.0 L1324.0,1225.8 L1327.0,1225.7 L1330.0,1225.5 L1333.0,1225.3 L1336.0,1225.1 L1339.0,1225.0 L1342.0,1224.8 L1345.0,1224.6 L1348.0,1224.4 L1351.0,1224.2 L1354.0,1224.0 L1357.0,1223.8 L1360.0,1223.6 L1363.0,1223.4 L1366.0,1223.2 L1369.0,1223.0 L1372.0,1222.8 L1375.0,1222.5 L1378.0,1222.3 L1381.0,1222.0 L1384.0,1221.8 L1387.0,1221.5 L1390.0,1221.2 L1393.0,1221.0 L1396.0,1220.7 L1399.0,1220.5 L1402.0,1220.2 L1405.0,1219.9 L1408.0,1219.7 L1411.0,1219.4 L1414.0,1219.2 L1417.0,1219.0 L1420.0,1218.7 L1423.0,1218.5 L1426.0,1218.3 L1429.0,1218.0 L1432.0,1217.8 L1435.0,1217.6 L1438.0,1217.3 L1441.0,1217.1 L1444.0,1216.8 L1447.0,1216.6 L1450.0,1216.3 L1453.0,1216.0 L1456.0,1215.7 L1459.0,1215.5 L1462.0,1215.2 L1465.0,1214.9 L1468.0,1214.6 L1471.0,1214.3 L1474.0,1214.0 L1477.0,1213.8 L1480.0,1213.5 L1483.0,1213.2 L1486.0,1212.9 L1489.0,1212.6 L1492.0,1212.3 L1495.0,1212.0 L1498.0,1211.7 L1501.0,1211.4 L1504.0,1211.0 L1507.0,1210.7 L1510.0,1210.4 L1513.0,1210.1 L1516.0,1209.8 L1519.0,1209.5 L1522.0,1209.1 L1525.0,1208.8 L1528.0,1208.5 L1531.0,1208.2 L1534.0,1207.8 L1537.0,1207.5 L1540.0,1207.2 L1543.0,1206.9 L1546.0,1206.5 L1549.0,1206.2 L1552.0,1205.9 L1555.0,1205.6 L1558.0,1205.3 L1561.0,1205.0 L1564.0,1204.7 L1567.0,1204.4 L1570.0,1204.1 L1573.0,1203.8 L1576.0,1203.5 L1579.0,1203.2 L1582.0,1202.9 L1585.0,1202.6 L1588.0,1202.3 L1591.0,1201.9 L1594.0,1201.6 L1597.0,1201.3 L1600.0,1201.0 L1603.0,1200.6 L1606.0,1200.3 L1609.0,1199.9 L1612.0,1199.5 L1615.0,1199.2 L1618.0,1198.8 L1621.0,1198.4 L1624.0,1198.0 L1627.0,1197.5 L1630.0,1197.1 L1633.0,1196.6 L1636.0,1196.2 L1639.0,1195.7 L1642.0,1195.2 L1645.0,1194.6 L1648.0,1194.0 L1651.0,1193.4 L1654.0,1192.7 L1657.0,1191.9 L1660.0,1191.2 L1663.0,1190.4 L1666.0,1189.6 L1669.0,1188.8 L1672.0,1187.9 L1675.0,1187.1 L1678.0,1186.2 L1681.0,1185.3 L1684.0,1184.3 L1687.0,1183.3 L1690.0,1182.3 L1693.0,1181.2 L1696.0,1180.1 L1699.0,1179.0 L1702.0,1177.9 L1705.0,1176.7 L1708.0,1175.5 L1711.0,1174.3 L1714.0,1173.0 L1717.0,1171.8 L1720.0,1170.5 L1723.0,1169.2 L1726.0,1167.8 L1729.0,1166.4 L1732.0,1165.0 L1735.0,1163.5 L1738.0,1162.0 L1741.0,1160.5 L1744.0,1159.0 L1747.0,1157.4 L1750.0,1155.8 L1753.0,1154.2 L1756.0,1152.6 L1759.0,1150.8 L1762.0,1149.1 L1765.0,1147.3 L1768.0,1145.4 L1771.0,1143.6 L1774.0,1141.7 L1777.0,1139.7 L1780.0,1137.8 L1783.0,1135.8 L1786.0,1133.9 L1789.0,1131.9 L1792.0,1130.0 L1795.0,1128.0 L1798.0,1126.0 L1801.0,1124.0 L1804.0,1122.0 L1807.0,1120.0 L1810.0,1117.9 L1813.0,1115.9 L1816.0,1113.8 L1819.0,1111.7 L1822.0,1109.7 L1825.0,1107.6 L1828.0,1105.5 L1831.0,1103.4 L1834.0,1101.3 L1837.0,1099.2 L1840.0,1097.1 L1843.0,1094.9 L1846.0,1092.8 L1849.0,1090.7 L1852.0,1088.6 L1855.0,1086.5 L1858.0,1084.4 L1861.0,1082.3 L1864.0,1080.3 L1867.0,1078.2 L1870.0,1076.1 L1873.0,1074.0 L1876.0,1071.9 L1879.0,1069.7 L1882.0,1067.6 L1885.0,1065.5 L1888.0,1063.4 L1891.0,1061.3 L1894.0,1059.2 L1897.0,1057.0 L1900.0,1054.9 L1903.0,1052.8 L1906.0,1050.7 L1909.0,1048.6 L1912.0,1046.5 L1915.0,1044.4 L1918.0,1042.3 L1921.0,1040.2 L1924.0,1038.1 L1927.0,1036.0 L1930.0,1033.9 L1933.0,1031.9 L1934.5,1030.8" fill="none" stroke="#000" stroke-width="7" stroke-linejoin="round"/>
<g fill="#000" shape-rendering="crispEdges"><rect x="299" y="1274" width="5" height="16"/><rect x="301" y="1273" width="1" height="2"/><rect x="534" y="1274" width="5" height="16"/><rect x="536" y="1273" width="1" height="2"/><rect x="770" y="1274" width="5" height="16"/><rect x="772" y="1273" width="1" height="2"/><rect x="1005" y="1274" width="5" height="16"/><rect x="1007" y="1273" width="1" height="2"/><rect x="1240" y="1274" width="5" height="16"/><rect x="1242" y="1273" width="1" height="2"/><rect x="1475" y="1274" width="5" height="16"/><rect x="1477" y="1273" width="1" height="2"/><rect x="1710" y="1274" width="5" height="16"/><rect x="1712" y="1273" width="1" height="2"/><rect x="416" y="1282" width="6" height="8"/><rect x="417" y="1281" width="4" height="2"/><rect x="651" y="1282" width="6" height="8"/><rect x="652" y="1281" width="4" height="2"/><rect x="887" y="1282" width="6" height="8"/><rect x="888" y="1281" width="4" height="2"/><rect x="1122" y="1282" width="6" height="8"/><rect x="1123" y="1281" width="4" height="2"/><rect x="1357" y="1282" width="6" height="8"/><rect x="1358" y="1281" width="4" height="2"/><rect x="1592" y="1282" width="6" height="8"/><rect x="1593" y="1281" width="4" height="2"/><rect x="1828" y="1282" width="6" height="8"/><rect x="1829" y="1281" width="4" height="2"/><rect x="248" y="1040" width="16" height="6"/><rect x="263" y="1041" width="2" height="4"/><rect x="248" y="791" width="16" height="6"/><rect x="263" y="792" width="2" height="4"/><rect x="248" y="542" width="16" height="6"/><rect x="263" y="543" width="2" height="4"/><rect x="248" y="294" width="16" height="6"/><rect x="263" y="295" width="2" height="4"/><rect x="248" y="1164" width="8" height="6"/><rect x="255" y="1165" width="2" height="4"/><rect x="248" y="915" width="8" height="6"/><rect x="255" y="916" width="2" height="4"/><rect x="248" y="667" width="8" height="6"/><rect x="255" y="668" width="2" height="4"/><rect x="248" y="418" width="8" height="6"/><rect x="255" y="419" width="2" height="4"/><rect x="248" y="170" width="8" height="6"/><rect x="255" y="171" width="2" height="4"/></g>
<g fill="#000" shape-rendering="crispEdges"><rect x="244.0" y="46.0" width="6.0" height="1248.0"/><rect x="1931.0" y="46.0" width="7.0" height="1248.0"/><rect x="244.0" y="46.0" width="1694.0" height="5.0"/><rect x="244.0" y="1288.0" width="1694.0" height="6.0"/></g>
<g class="ser" font-size="84" fill="#000"><text x="243.0" y="1372.0" textLength="120" lengthAdjust="spacingAndGlyphs">160</text><text x="478.2" y="1372.0" textLength="120" lengthAdjust="spacingAndGlyphs">165</text><text x="713.5" y="1372.0" textLength="120" lengthAdjust="spacingAndGlyphs">170</text><text x="948.8" y="1372.0" textLength="120" lengthAdjust="spacingAndGlyphs">175</text><text x="1184.0" y="1372.0" textLength="120" lengthAdjust="spacingAndGlyphs">180</text><text x="1419.2" y="1372.0" textLength="120" lengthAdjust="spacingAndGlyphs">185</text><text x="1654.5" y="1372.0" textLength="120" lengthAdjust="spacingAndGlyphs">190</text><text x="189.3" y="1315.9" textLength="40" lengthAdjust="spacingAndGlyphs">0</text><text x="149.3" y="1067.4" textLength="80" lengthAdjust="spacingAndGlyphs">20</text><text x="149.3" y="818.9" textLength="80" lengthAdjust="spacingAndGlyphs">40</text><text x="149.3" y="570.4" textLength="80" lengthAdjust="spacingAndGlyphs">60</text><text x="149.3" y="321.9" textLength="80" lengthAdjust="spacingAndGlyphs">80</text><text x="109.3" y="73.4" textLength="120" lengthAdjust="spacingAndGlyphs">100</text></g>
<text class="ser" font-size="100" x="630.7" y="1464.4" fill="#000" letter-spacing="0.25">Oxygen / Ore (Nm<tspan font-size="58" dy="-47">3</tspan><tspan dy="47">/t)</tspan></text>
<text class="ser" font-size="99.5" fill="#000" transform="translate(110,1053.3) rotate(-90)">As distribution (%)</text>
<g class="ser" font-size="100" font-weight="bold"><text x="1563" y="788.5" fill="#000">gas</text><text x="1640" y="1059.5" fill="#fff">slag</text><text x="1670" y="1254.5" fill="#fff">matte</text></g>
<g fill="#fff" stroke="#000" stroke-width="4" stroke-linejoin="miter"><path d="M1389,1041.25 L1412.2,1064.45 L1389,1087.65 L1365.8,1064.45 Z"/><path d="M1385.8,1199.3 L1409.0,1222.5 L1385.8,1245.7 L1362.6,1222.5 Z"/><path d="M449,205.70000000000002 L472.2,228.9 L449,252.1 L425.8,228.9 Z"/></g>
<rect x="391" y="327" width="121" height="7" rx="1.5" fill="#000"/>
<g class="sans" font-size="69.5" fill="#000"><text x="524.6" y="253.5" textLength="948.5" lengthAdjust="spacingAndGlyphs">Industrial data of SKS process</text><text x="525.2" y="358.0" textLength="428.8" lengthAdjust="spacingAndGlyphs">Present study</text></g>
</svg></body></html>
